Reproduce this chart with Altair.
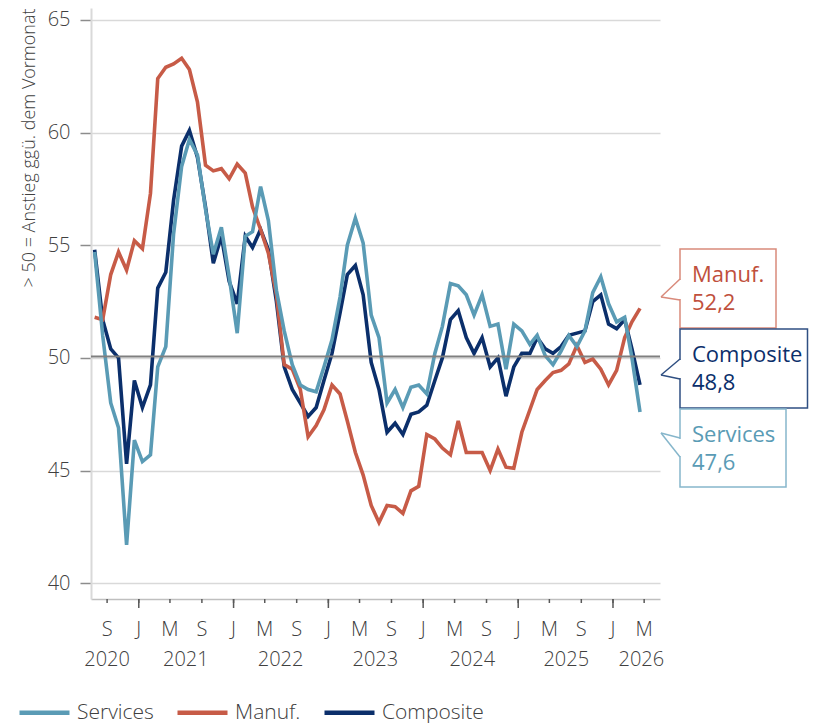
import altair as alt
import pandas as pd

# ---------------- data (monthly, Jul 2020 .. Apr 2026) ----------------
first_month = "2020-07-15"
services = [54.7, 51.0, 48.0, 46.9, 41.7, 46.35, 45.4, 45.7, 49.6, 50.5,
            55.5, 58.5, 59.7, 59.0, 56.6, 54.6, 55.8, 53.6, 51.1, 55.4,
            55.6, 57.6, 56.1, 53.0, 51.2, 49.7, 48.8, 48.6, 48.5, 49.6,
            50.8, 52.7, 55.0, 56.2, 55.1, 51.9, 50.9, 48.0, 48.6, 47.8,
            48.7, 48.8, 48.4, 50.2, 51.4, 53.3, 53.2, 52.8, 51.9, 52.8,
            51.4, 51.5, 49.5, 51.5, 51.2, 50.6, 51.0, 50.1, 49.7, 50.3,
            51.0, 50.5, 51.2, 52.9, 53.6, 52.4, 51.6, 51.8, 50.0, 47.6]
manuf = [51.8, 51.7, 53.7, 54.7, 53.9, 55.2, 54.85, 57.3, 62.4, 62.9,
         63.05, 63.3, 62.8, 61.35, 58.55, 58.3, 58.4, 57.95, 58.6, 58.2,
         56.7, 55.7, 54.65, 52.8, 49.7, 49.5, 48.6, 46.5, 47.0, 47.7,
         48.8, 48.4, 47.2, 45.8, 44.8, 43.45, 42.7, 43.45, 43.4, 43.1,
         44.1, 44.3, 46.6, 46.4, 46.0, 45.7, 47.2, 45.8, 45.8, 45.8,
         45.0, 45.95, 45.15, 45.1, 46.7, 47.7, 48.6, 49.0, 49.35, 49.45,
         49.73, 50.55, 49.8, 49.95, 49.5, 48.8, 49.45, 50.9, 51.6, 52.2]
composite = [54.8, 51.7, 50.4, 50.0, 45.3, 49.0, 47.8, 48.8, 53.1, 53.8,
             57.0, 59.4, 60.1, 58.9, 56.7, 54.2, 55.4, 53.4, 52.4, 55.4,
             54.9, 55.7, 54.8, 52.5, 49.6, 48.6, 48.0, 47.4, 47.8, 49.0,
             50.2, 52.0, 53.7, 54.1, 52.8, 49.8, 48.6, 46.7, 47.1, 46.6,
             47.5, 47.6, 47.9, 49.0, 50.0, 51.7, 52.1, 50.9, 50.2, 50.9,
             49.6, 50.0, 48.3, 49.6, 50.2, 50.2, 50.9, 50.4, 50.2, 50.5,
             51.0, 51.1, 51.2, 52.5, 52.8, 51.5, 51.3, 51.7, 50.4, 48.8]

series_names = ["Services", "Manuf.", "Composite"]
series_colors = ["#5A9BB5", "#C75B47", "#0B2F6B"]
callout_text_colors = ["#5A9BB5", "#C0503C", "#0B2F6B"]
callout_border_colors = ["#86B6CB", "#D98A7B", "#2F4F82"]

# axis ticks every four months (S, J, M)
tick_dates = ["2020-09-01", "2021-01-01", "2021-05-01", "2021-09-01", "2022-01-01",
              "2022-05-01", "2022-09-01", "2023-01-01", "2023-05-01", "2023-09-01",
              "2024-01-01", "2024-05-01", "2024-09-01", "2025-01-01", "2025-05-01",
              "2025-09-01", "2026-01-01", "2026-05-01"]
year_labels = ["2020", "2021", "2022", "2023", "2024", "2025", "2026"]
year_label_dates = ["2020-09-01", "2021-07-01", "2022-07-01", "2023-07-01",
                    "2024-07-08", "2025-07-05", "2026-04-20"]
x_range = ["2020-07-01", "2026-07-01"]
y_ticks = [40, 45, 50, 55, 60, 65]
y_title = "> 50 = Anstieg ggü. dem Vormonat"

FONT = "Open Sans"
W, H = 569, 591
AXIS_GREY = "#595959"
TEXT_GREY = "#404040"


def ms(d):
    return int(pd.Timestamp(d, tz="UTC").value // 10**6)


dates = pd.date_range(first_month, periods=len(services),
                      freq=pd.DateOffset(months=1)).strftime("%Y-%m-%d")
rows = []
for name, vals in [("Composite", composite), ("Manuf.", manuf), ("Services", services)]:
    for d, v in zip(dates, vals):
        rows.append({"date": d, "value": v, "series": name})
df = pd.DataFrame(rows)

tick_rows = [{"d": d, "lab": pd.Timestamp(d).strftime("%b")[0],
              "big": d[5:7] == "01"} for d in tick_dates]

x_scale = alt.Scale(type="utc", domain=[ms(d) for d in x_range], nice=False)
y_scale = alt.Scale(domain=[39.3, 65.53], nice=False, zero=False)

lines = alt.Chart(df).mark_line(strokeWidth=3.6, strokeJoin="miter").encode(
    x=alt.X("date:T", scale=x_scale, title=None,
            axis=alt.Axis(ticks=False, labels=False, grid=False,
                          domainColor="#BFBFBF", domainWidth=1.5)),
    y=alt.Y("value:Q", scale=y_scale,
            axis=alt.Axis(values=y_ticks, tickSize=11, tickColor="#8C8C8C", tickWidth=1.5,
                          gridColor="#D9D9D9", gridWidth=1.5,
                          domainColor="#D9D9D9", domainWidth=2,
                          labelFont=FONT, labelFontSize=20, labelFontWeight=300,
                          labelColor=TEXT_GREY, labelPadding=10,
                          title=y_title, titleFont=FONT, titleFontSize=18,
                          titleFontWeight=300, titleColor=TEXT_GREY,
                          titleX=-62, titleY=0, titleAngle=-90,
                          titleAlign="right", titleBaseline="middle")),
    color=alt.Color("series:N",
                    scale=alt.Scale(domain=series_names, range=series_colors),
                    legend=alt.Legend(orient="none", legendX=-74, legendY=677,
                                      direction="horizontal", symbolType="stroke",
                                      symbolSize=2500, symbolStrokeWidth=4.5,
                                      labelFont=FONT, labelFontSize=21, labelFontWeight=300,
                                      labelColor=TEXT_GREY, labelOffset=5,
                                      labelLimit=200, columnPadding=14, title=None)),
    detail="series:N",
)

ref50 = alt.Chart(alt.Data(values=[{"v": 50}])).mark_rule(
    color="#7F7F7F", strokeWidth=2, yOffset=-1.3).encode(
    y=alt.Y("v:Q", scale=y_scale), x=alt.value(0), x2=alt.value(W))

tick_data = alt.Data(values=tick_rows)
small_ticks = alt.Chart(tick_data).mark_rule(color=AXIS_GREY, strokeWidth=1.5).encode(
    x=alt.X("d:T", scale=x_scale), y=alt.value(H), y2=alt.value(H + 4))
big_ticks = alt.Chart(tick_data).transform_filter("datum.big").mark_rule(
    color=AXIS_GREY, strokeWidth=1.5).encode(
    x=alt.X("d:T", scale=x_scale), y=alt.value(H), y2=alt.value(H + 9))
month_labels = alt.Chart(tick_data).mark_text(
    font=FONT, fontSize=20, fontWeight=300, color=TEXT_GREY,
    align="center", baseline="alphabetic").encode(
    x=alt.X("d:T", scale=x_scale), y=alt.value(628), text="lab:N")

years = alt.Chart(alt.Data(values=[{"d": d, "t": t} for d, t in zip(year_label_dates, year_labels)])).mark_text(
    font=FONT, fontSize=20, fontWeight=300, color=TEXT_GREY,
    align="center", baseline="alphabetic").encode(
    x=alt.X("d:T", scale=x_scale), y=alt.value(658), text="t:N")

# ---------------- callouts ----------------
last_vals = {"Services": services[-1], "Manuf.": manuf[-1], "Composite": composite[-1]}
# (series, box left, right, top, bottom, notch top, tip y, notch bottom)
callouts = [("Manuf.", 589, 685, 241, 320, 271, 289, 292),
            ("Composite", 589, 716.5, 321, 400, 351, 367, 371),
            ("Services", 589, 695, 401, 479, 430, 425, 449)]
tip_x = 570
one = alt.Data(values=[{}])
ann = []
for name, x0, x1, y0, y1, nt, ty, nb in callouts:
    idx = series_names.index(name)
    bc = callout_border_colors[idx]
    tc = callout_text_colors[idx]
    ann.append(alt.Chart(one).mark_rect(fill="white", stroke=bc, strokeWidth=1.5).encode(
        x=alt.value(x0), x2=alt.value(x1), y=alt.value(y0), y2=alt.value(y1)))
    ann.append(alt.Chart(one).mark_rule(color="white", strokeWidth=3).encode(
        x=alt.value(x0), x2=alt.value(x0), y=alt.value(nt + 1), y2=alt.value(nb - 1)))
    ann.append(alt.Chart(one).mark_rule(color=bc, strokeWidth=1.5).encode(
        x=alt.value(x0), x2=alt.value(tip_x), y=alt.value(nt), y2=alt.value(ty)))
    ann.append(alt.Chart(one).mark_rule(color=bc, strokeWidth=1.5).encode(
        x=alt.value(tip_x), x2=alt.value(x0), y=alt.value(ty), y2=alt.value(nb)))
    val_txt = f"{last_vals[name]:.1f}".replace(".", ",")
    ann.append(alt.Chart(one).mark_text(font=FONT, fontSize=22, color=tc,
                                        align="left", baseline="alphabetic").encode(
        x=alt.value(x0 + 12), y=alt.value(y0 + 33), text=alt.value(name)))
    ann.append(alt.Chart(one).mark_text(font=FONT, fontSize=22, color=tc,
                                        align="left", baseline="alphabetic").encode(
        x=alt.value(x0 + 12), y=alt.value(y0 + 61), text=alt.value(val_txt)))

chart = alt.layer(lines, ref50, small_ticks, big_ticks, month_labels, years, *ann).properties(
    width=W, height=H,
    padding={"left": 83, "top": 0, "right": 149, "bottom": 124},
    autosize=alt.AutoSizeParams(type="none"),
).configure_view(stroke=None)

chart.save("out.html", embed_options={"renderer": "svg", "actions": False})
